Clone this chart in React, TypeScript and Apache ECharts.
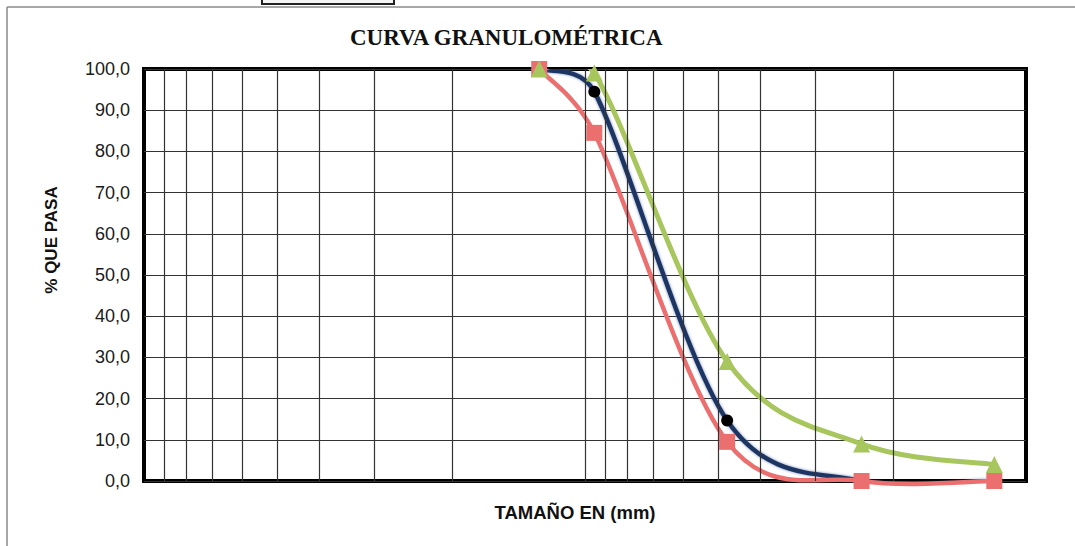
import React, { useEffect, useRef } from "react";
import * as echarts from "echarts";

// Sieve openings (mm) and % passing for the three curves
const sizes = [12.7, 9.525, 4.76, 2.36, 1.18];
const passBlue = [100, 94.5, 14.7, 0, 0];
const passRed = [100, 84.5, 9.5, 0, 0];
const passGreen = [100, 99, 29, 9, 4];

// Log-scale vertical grid values (mm)
const xGridValues = [2, 3, 4, 5, 6, 7, 8, 9, 10, 20, 30, 40, 50, 60, 70, 80, 90];

const titleText = "CURVA GRANULOMÉTRICA";
const yName = "% QUE PASA";
const xName = "TAMAÑO EN (mm)";

const toPairs = (ys: number[]) => sizes.map((x, i) => [x, ys[i]]);

// Control-point offset of a spreadsheet-style smoothed curve: tangent/6,
// capped at half the length of the segment it belongs to.
const handle = (from: number[], to: number[], a: number[], b: number[]) => {
  let hx = (b[0] - a[0]) / 6;
  let hy = (b[1] - a[1]) / 6;
  const hl = Math.hypot(hx, hy);
  const half = Math.hypot(to[0] - from[0], to[1] - from[1]) / 2;
  if (hl > half && hl > 0) {
    hx *= half / hl;
    hy *= half / hl;
  }
  return [hx, hy];
};

// Smoothed curve through the pixel positions the axes give for each point.
const smoothCurve = (stroke: string, width: number, extra: any = {}) =>
  (params: any, api: any) => {
    if (params.dataIndexInside !== 0) return null;
    const n = params.dataInsideLength;
    const p: number[][] = [];
    for (let i = 0; i < n; i++) {
      p.push(api.coord([api.value(0, i), api.value(1, i)]));
    }
    let d = `M${p[0][0]},${p[0][1]}`;
    for (let i = 0; i < n - 1; i++) {
      const p0 = p[Math.max(i - 1, 0)];
      const p1 = p[i];
      const p2 = p[i + 1];
      const p3 = p[Math.min(i + 2, n - 1)];
      const h1 = handle(p1, p2, p0, p2);
      const h2 = handle(p1, p2, p1, p3);
      d += ` C${p1[0] + h1[0]},${p1[1] + h1[1]} ${p2[0] - h2[0]},${p2[1] - h2[1]} ${p2[0]},${p2[1]}`;
    }
    return {
      type: "path",
      shape: { pathData: d },
      style: {
        fill: "none",
        stroke,
        lineWidth: width,
        lineCap: "round",
        lineJoin: "round",
        ...extra,
      },
    };
  };

const curveSeries = (
  name: string,
  ys: number[],
  stroke: string,
  width: number,
  clip: boolean,
  extra?: any
) => ({
  name,
  type: "custom",
  coordinateSystem: "cartesian2d",
  clip,
  silent: true,
  z: 3,
  encode: { x: 0, y: 1 },
  data: toPairs(ys),
  renderItem: smoothCurve(stroke, width, extra),
});

const markerSeries = (name: string, ys: number[], symbol: string, size: number, color: string) => ({
  name,
  type: "scatter",
  z: 3,
  symbol,
  symbolSize: size,
  itemStyle: { color, opacity: 1 },
  data: toPairs(ys),
});

export default function App() {
  const ref = useRef<HTMLDivElement>(null);

  useEffect(() => {
    if (!ref.current) return;
    const chart = echarts.init(ref.current, undefined, { renderer: "svg" });
    chart.setOption({
      animation: false,
      backgroundColor: "#ffffff",
      title: {
        text: titleText,
        left: 350,
        top: 26,
        padding: 0,
        textStyle: {
          fontFamily: "'Liberation Serif', 'Times New Roman', serif",
          fontWeight: "bold",
          fontSize: 23,
          color: "#111",
        },
      },
      grid: {
        left: 144,
        right: 49,
        top: 69,
        bottom: 65,
        show: true,
        borderColor: "#000",
        borderWidth: 4,
        backgroundColor: "transparent",
      },
      xAxis: {
        type: "log",
        logBase: 10,
        min: 1,
        max: 100,
        inverse: true,
        axisLine: { show: false },
        axisTick: { show: false },
        axisLabel: { show: false },
        splitLine: { show: false },
      },
      yAxis: {
        type: "value",
        min: 0,
        max: 100,
        interval: 10,
        axisLine: { show: false },
        axisTick: { show: false },
        axisLabel: {
          margin: 14,
          fontFamily: "'Liberation Sans', Arial, sans-serif",
          fontSize: 18,
          color: "#1a1a1a",
          formatter: (v: number) => v.toFixed(1).replace(".", ","),
        },
        splitLine: { show: true, lineStyle: { color: "#333", width: 1.2 } },
      },
      graphic: [
        {
          type: "line",
          shape: { x1: 7, y1: 7, x2: 1075, y2: 7 },
          style: { stroke: "#8a8a8a", lineWidth: 1.5 },
          silent: true,
        },
        {
          type: "line",
          shape: { x1: 7, y1: 7, x2: 7, y2: 546 },
          style: { stroke: "#8a8a8a", lineWidth: 1.5 },
          silent: true,
        },
        {
          type: "rect",
          shape: { x: 262, y: -3, width: 132, height: 7 },
          style: { fill: "#f4f4f4", stroke: "#222", lineWidth: 2 },
          silent: true,
        },
        {
          type: "text",
          x: 51,
          y: 240,
          rotation: Math.PI / 2,
          style: {
            text: yName,
            fontFamily: "'Liberation Sans', Arial, sans-serif",
            fontWeight: "bold",
            fontSize: 17,
            fill: "#111",
            align: "center",
            verticalAlign: "middle",
          },
          silent: true,
        },
        {
          type: "text",
          x: 575,
          y: 512,
          style: {
            text: xName,
            fontFamily: "'Liberation Sans', Arial, sans-serif",
            fontWeight: "bold",
            fontSize: 18.5,
            fill: "#111",
            align: "center",
            verticalAlign: "middle",
          },
          silent: true,
        },
      ],
      series: [
        {
          name: "grid",
          type: "line",
          data: [],
          z: 1,
          silent: true,
          markLine: {
            silent: true,
            symbol: ["none", "none"],
            label: { show: false },
            emphasis: { disabled: true },
            lineStyle: { color: "#333", width: 1.2, type: "solid" },
            data: xGridValues.map((v) => ({ xAxis: v })),
          },
        },
        curveSeries("Azul", passBlue, "#1d3564", 4.5, true, {
          shadowColor: "rgba(90,115,165,0.8)",
          shadowBlur: 3,
        }),
        markerSeries("Azul puntos", passBlue, "circle", 12, "#000"),
        curveSeries("Rojo", passRed, "#ec6f70", 4.5, false),
        markerSeries("Rojo puntos", passRed, "rect", 16, "#ec6f70"),
        curveSeries("Verde", passGreen, "#a8c65e", 5, true),
        markerSeries("Verde puntos", passGreen, "triangle", 17, "#a8c65e"),
      ],
    });
    return () => chart.dispose();
  }, []);

  return (
    <div
      ref={ref}
      style={{ position: "fixed", left: 0, top: 0, width: 1075, height: 546 }}
    />
  );
}
